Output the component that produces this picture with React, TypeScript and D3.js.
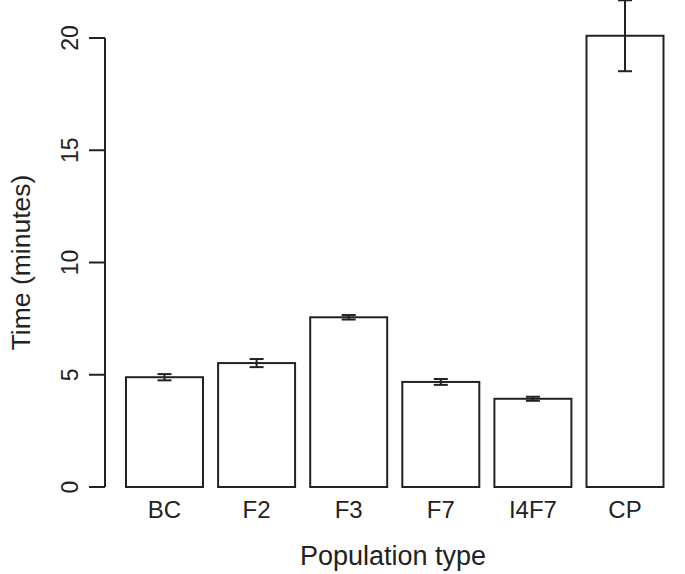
import React from "react";
import * as d3 from "d3";

const categories = ["BC", "F2", "F3", "F7", "I4F7", "CP"];
const means = [4.89, 5.52, 7.56, 4.68, 3.93, 20.1];
const errors = [0.14, 0.18, 0.1, 0.13, 0.09, 1.58];
const yTicks = [0, 5, 10, 15, 20];

const W = 685;
const H = 574;
const font = "'Liberation Sans', Arial, Helvetica, sans-serif";
const ink = "#222";

export default function App() {
  const y = d3.scaleLinear().domain([0, 20]).range([487, 38]);
  const x = d3
    .scaleBand<string>()
    .domain(categories)
    .range([126, 663.5])
    .paddingInner(0.164)
    .paddingOuter(0);
  const bw = x.bandwidth();
  const capW = 14;

  return (
    <svg
      width={W}
      height={H}
      style={{ position: "absolute", left: 0, top: 0, background: "#fff" }}
      fontFamily={font}
    >
      <rect x={0} y={0} width={W} height={H} fill="#fff" />
      {categories.map((c, i) => (
        <rect
          key={c}
          x={x(c)}
          y={y(means[i])}
          width={bw}
          height={y(0) - y(means[i])}
          fill="#fff"
          stroke={ink}
          strokeWidth={2}
        />
      ))}
      {categories.map((c, i) => {
        const cx = (x(c) as number) + bw / 2;
        const lo = y(means[i] - errors[i]);
        const hi = y(means[i] + errors[i]);
        return (
          <g key={"e" + c} stroke={ink} strokeWidth={2}>
            <line x1={cx} x2={cx} y1={lo} y2={hi} />
            <line x1={cx - capW / 2} x2={cx + capW / 2} y1={lo} y2={lo} />
            <line x1={cx - capW / 2} x2={cx + capW / 2} y1={hi} y2={hi} />
          </g>
        );
      })}
      <line x1={105} x2={105} y1={y(0)} y2={y(20)} stroke={ink} strokeWidth={2} />
      {yTicks.map((t) => (
        <g key={"t" + t}>
          <line x1={89} x2={105} y1={y(t)} y2={y(t)} stroke={ink} strokeWidth={2} />
          <text
            transform={`translate(78,${y(t)}) rotate(-90)`}
            textAnchor="middle"
            fontSize={23}
            fill={ink}
          >
            {t}
          </text>
        </g>
      ))}
      {categories.map((c) => (
        <text
          key={"l" + c}
          x={(x(c) as number) + bw / 2}
          y={518}
          textAnchor="middle"
          fontSize={24}
          fill={ink}
        >
          {c}
        </text>
      ))}
      <text x={393} y={565} textAnchor="middle" fontSize={27} fill={ink}>
        Population type
      </text>
      <text
        transform={`translate(29.5,${y(10)}) rotate(-90)`}
        textAnchor="middle"
        fontSize={26.5}
        fill={ink}
      >
        Time (minutes)
      </text>
    </svg>
  );
}
